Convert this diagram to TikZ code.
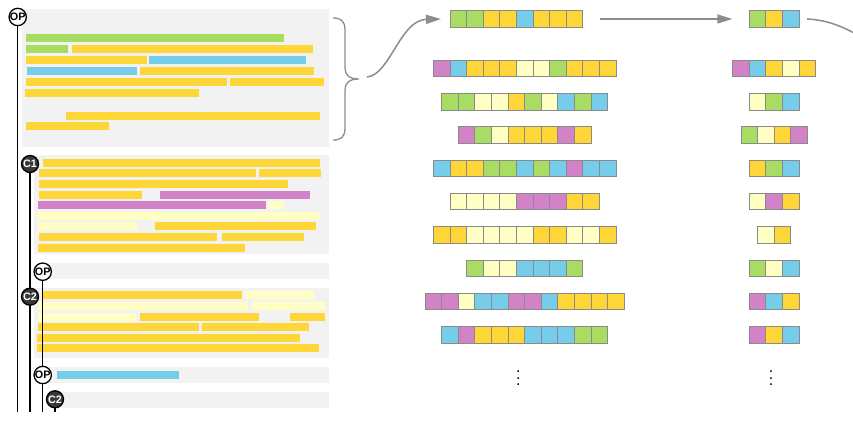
\documentclass[tikz,border=0pt]{standalone}
\usepackage{fontspec}
\setmainfont{Liberation Sans}
\usetikzlibrary{arrows.meta}
\definecolor{cG}{HTML}{A8DC62}
\definecolor{cY}{HTML}{FFD638}
\definecolor{cB}{HTML}{76CDEA}
\definecolor{cM}{HTML}{D282C6}
\definecolor{cL}{HTML}{FFFFC4}
\definecolor{panelgray}{HTML}{F2F2F2}
\definecolor{edgegray}{HTML}{8A8A8A}
\definecolor{arrowgray}{HTML}{8C8C8C}
\definecolor{darkdot}{HTML}{383838}
\tikzset{
  panel/.style={fill=panelgray},
  cellbox/.style={draw=edgegray, line width=1pt},
  rowfit/.style={inner sep=0pt, outer sep=0pt, minimum height=16.6pt, draw=none},
  flow/.style={draw=arrowgray, line width=1.5pt, -{Triangle[length=15pt,width=9pt]}},
  plain/.style={draw=arrowgray, line width=1.5pt},
  bracestyle/.style={draw=arrowgray, line width=1.3pt},
  opnode/.style={circle, draw=black, line width=1.3pt, fill=white, minimum size=17pt, inner sep=0pt, font=\bfseries\fontsize{10.8}{10.8}\selectfont},
  cnode/.style={circle, draw=black, line width=1.3pt, fill=darkdot, text=white, minimum size=17pt, inner sep=0pt, font=\bfseries\fontsize{10.8}{10.8}\selectfont},
  tl/.style={draw=black, line width=1.3pt},
  dotsnode/.style={inner sep=0pt, scale=1.6},
}
\newcommand{\bandrect}[4]{\fill[#4] (#1,#3) rectangle (#2,#3+8);}
\newcommand{\cellrow}[5]{%
  \node[rowfit, minimum width=#4*16.6pt, anchor=west] (#1) at (#2,#3) {};
  \foreach \c [count=\i from 0] in {#5} {
    \filldraw[cellbox, fill=\c] ({#2+\i*16.6},{#3-8.3}) rectangle ++(16.6,16.6);
  }
}
\begin{document}
\begin{tikzpicture}[x=1pt,y=-1pt]
\useasboundingbox (0,0) rectangle (853,438);
\clip (0,0) rectangle (853,438);
% panels
\fill[panel] (22,9) rectangle (329.3,146.7);
\fill[panel] (34.3,155) rectangle (329,254.3);
\fill[panel] (43,263.3) rectangle (329,279);
\fill[panel] (34.3,287.7) rectangle (329,358.3);
\fill[panel] (43,367.3) rectangle (329,383.3);
\fill[panel] (55,392.3) rectangle (329,408.3);
% box 1 bars
\bandrect{26}{283.7}{34.3}{cG}
\bandrect{26}{67.7}{45.3}{cG} \bandrect{72}{312.7}{45.3}{cY}
\bandrect{26}{146.7}{56.3}{cY} \bandrect{149.3}{305.7}{56.3}{cB}
\bandrect{26.7}{136.7}{67}{cB} \bandrect{139.7}{313.7}{67}{cY}
\bandrect{26}{226.7}{78}{cY} \bandrect{229.7}{324}{78}{cY}
\bandrect{25}{199}{89}{cY}
\bandrect{66}{320}{112.3}{cY}
\bandrect{26}{109}{122.3}{cY}
% box 2 bars
\bandrect{43.3}{320}{159}{cY}
\bandrect{39}{256}{169.3}{cY} \bandrect{259}{320.7}{169.3}{cY}
\bandrect{39}{287.7}{180}{cY}
\bandrect{39}{142}{190.7}{cY} \bandrect{160.3}{309.7}{190.7}{cM}
\bandrect{38}{266}{201}{cM} \bandrect{268.7}{283.7}{201}{cL}
\bandrect{37.3}{319}{211.7}{cL}
\bandrect{38}{136.7}{222.3}{cL} \bandrect{155.3}{316}{222.3}{cY}
\bandrect{39}{216.7}{233}{cY} \bandrect{222}{304}{233}{cY}
\bandrect{38}{244.7}{243.7}{cY}
% box 4 bars
\bandrect{43.3}{242.3}{291.3}{cY} \bandrect{245}{314}{291.3}{cL}
\bandrect{37.7}{248}{302}{cL} \bandrect{252.3}{325}{302}{cL}
\bandrect{37.7}{136}{312.7}{cL} \bandrect{139.7}{259}{312.7}{cY} \bandrect{289.7}{325}{312.7}{cY}
\bandrect{37.7}{199}{323.3}{cY} \bandrect{202.3}{309}{323.3}{cY}
\bandrect{37.3}{300}{333.7}{cY}
\bandrect{36.7}{319}{344.3}{cY}
% box 5 bar
\bandrect{56.7}{179.3}{370.7}{cB}
% timeline markers
\coordinate (bot) at (0,412);
\node[opnode] (op1) at (17.7,17) {OP};
\node[cnode] (c1) at (30,164) {C1};
\node[opnode] (op2) at (42.7,271.7) {OP};
\node[cnode] (c2) at (30,296.7) {C2};
\node[opnode] (op3) at (42.7,375) {OP};
\node[cnode] (c2b) at (55,399.3) {C2};
\draw[tl] (op1.south) -- (op1 |- bot);
\draw[tl] (c1.south) -- (c2.north);
\draw[tl] (c2.south) -- (c2 |- bot);
\draw[tl] (op2.south) -- (op3.north);
\draw[tl] (op3.south) -- (op3 |- bot);
\draw[tl] (c2b.south) -- (c2b |- bot);
% brace
\draw[bracestyle] (333,18) .. controls (341,18) and (345,21) .. (345,30) -- (345,68) .. controls (345,75) and (349,79) .. (359,79) .. controls (349,79) and (345,83) .. (345,90) -- (345,128) .. controls (345,137) and (341,140) .. (333,140);
\coordinate (bt) at (367,77);
% middle column
\cellrow{m0}{450}{19}{8}{cG,cG,cY,cY,cB,cY,cY,cY}
\cellrow{m1}{433.4}{68.5}{11}{cM,cB,cY,cY,cY,cL,cL,cG,cY,cY,cY}
\cellrow{m2}{441.7}{101.8}{10}{cG,cG,cL,cL,cY,cG,cL,cB,cG,cB}
\cellrow{m3}{458.3}{135.1}{8}{cM,cG,cL,cY,cY,cY,cM,cY}
\cellrow{m4}{433.4}{168.4}{11}{cB,cY,cY,cG,cG,cB,cG,cB,cM,cB,cB}
\cellrow{m5}{450}{201.7}{9}{cL,cL,cL,cL,cM,cM,cM,cY,cY}
\cellrow{m6}{433.4}{235}{11}{cY,cY,cL,cL,cL,cL,cY,cY,cL,cL,cY}
\cellrow{m7}{466.6}{268.3}{7}{cG,cL,cL,cB,cB,cB,cG}
\cellrow{m8}{425.1}{301.6}{12}{cM,cM,cL,cB,cB,cM,cM,cB,cY,cY,cY,cY}
\cellrow{m9}{441.7}{334.9}{10}{cB,cM,cY,cY,cY,cB,cB,cB,cG,cG}
\node[dotsnode] (mdots) at (518.3,373.5) {$\vdots$};
% right column
\cellrow{r0}{749.3}{19}{3}{cG,cY,cB}
\cellrow{r1}{732.7}{68.5}{5}{cM,cB,cY,cL,cY}
\cellrow{r2}{749.3}{101.8}{3}{cL,cG,cB}
\cellrow{r3}{741}{135.1}{4}{cG,cL,cY,cM}
\cellrow{r4}{749.3}{168.4}{3}{cY,cG,cB}
\cellrow{r5}{749.3}{201.7}{3}{cL,cM,cY}
\cellrow{r6}{757.6}{235}{2}{cL,cY}
\cellrow{r7}{749.3}{268.3}{3}{cG,cL,cB}
\cellrow{r8}{749.3}{301.6}{3}{cM,cB,cY}
\cellrow{r9}{749.3}{334.9}{3}{cM,cY,cB}
\node[dotsnode] (rdots) at (771,373.5) {$\vdots$};
% connectors
\coordinate (cont) at (866,40);
\draw[flow] (bt) .. controls (390,75) and (400,20) .. ([xshift=-9pt]m0.west);
\draw[flow] ([xshift=17pt]m0.east) -- ([xshift=-17pt]r0.west);
\draw[plain] ([xshift=8pt]r0.east) .. controls (828,20) and (845,27) .. (cont);
\end{tikzpicture}
\end{document}
